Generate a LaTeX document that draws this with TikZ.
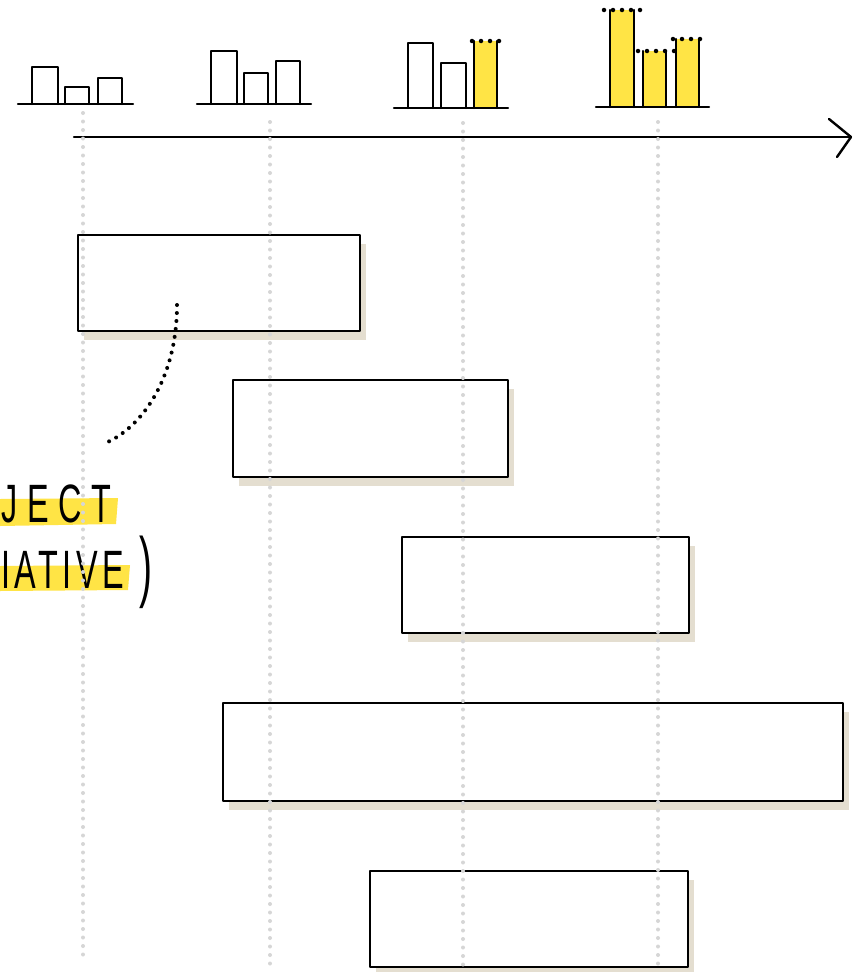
\documentclass[tikz,border=0pt]{standalone}
\usepackage{fontspec}
\setmainfont{Liberation Sans}
\usetikzlibrary{shadows}
\definecolor{hl}{HTML}{FFE445}
\definecolor{beige}{HTML}{E4DED0}
\definecolor{dotgray}{HTML}{D6D6D6}
\tikzset{
  ink/.style={draw=black, line width=2.4pt, line cap=round, line join=round},
  box/.style={ink, fill=white, inner sep=0pt,
    drop shadow={shadow xshift=6pt, shadow yshift=-9pt, fill=beige, opacity=1}},
  guide/.style={draw=dotgray, line width=4pt, line cap=round, dash pattern=on 0pt off 8.5pt},
  topdots/.style={draw=black, line width=4.5pt, line cap=round, dash pattern=on 0pt off 9pt},
  curvedots/.style={draw=black, line width=4pt, line cap=round, dash pattern=on 0pt off 8pt},
  hand/.style={inner sep=0pt, font=\fontsize{54}{54}\selectfont}
}
\begin{document}
\begin{tikzpicture}[x=1pt,y=-1pt]
\useasboundingbox[fill=white] (0,0) rectangle (853,972);

% highlights and text
\fill[hl] (0,499) -- (118,498) -- (116,524) -- (0,526) -- cycle;
\fill[hl] (0,566) -- (130,565) -- (128,590) -- (0,591) -- cycle;
\node[hand, anchor=base west] (t1) at (1,522) {\scalebox{0.6}[1]{\addfontfeature{LetterSpace=30}JECT}};
\node[hand, anchor=base west] (t2) at (1,588) {\scalebox{0.6}[1]{\addfontfeature{LetterSpace=14}IATIVE}};
\node[inner sep=0pt, anchor=base west, font=\fontsize{78}{78}\selectfont] (t3) at (139,592) {\scalebox{0.5}[1]{)}};

% mini chart 1
\draw[ink] (18,104) -- (133,104);
\draw[ink] (32,104) -- (32,67) -- (58,67) -- (58,104);
\draw[ink] (65,104) -- (65,87) -- (89,87) -- (89,104);
\draw[ink] (98,104) -- (98,78) -- (122,78) -- (122,104);
% mini chart 2
\draw[ink] (197,104) -- (311,104);
\draw[ink] (211,104) -- (211,51) -- (237,51) -- (237,104);
\draw[ink] (244,104) -- (244,73) -- (268,73) -- (268,104);
\draw[ink] (276,104) -- (276,61) -- (300,61) -- (300,104);
% mini chart 3
\fill[hl] (474,41) rectangle (497,108);
\draw[ink] (394,108) -- (508,108);
\draw[ink] (408,108) -- (408,43) -- (433,43) -- (433,108);
\draw[ink] (441,108) -- (441,63) -- (466,63) -- (466,108);
\draw[ink] (474,108) -- (474,41);
\draw[ink] (497,108) -- (497,41);
\draw[topdots] (472,41) -- (505,41);
% mini chart 4
\fill[hl] (610,10) rectangle (634,107);
\fill[hl] (643,51) rectangle (666,107);
\fill[hl] (676,39) rectangle (699,107);
\draw[ink] (596,107) -- (709,107);
\draw[ink] (610,107) -- (610,10);
\draw[ink] (634,107) -- (634,10);
\draw[ink] (643,107) -- (643,51);
\draw[ink] (666,107) -- (666,51);
\draw[ink] (676,107) -- (676,39);
\draw[ink] (699,107) -- (699,39);
\draw[topdots] (604,10) -- (641,10);
\draw[topdots] (638,51) -- (674,51);
\draw[topdots] (673,39) -- (707,39);

% time axis
\coordinate (ax0) at (74,137);
\coordinate (ax1) at (851,137);
\draw[ink] (ax0) -- (ax1);
\draw[ink] (829,119) -- (ax1) -- (837,157);

% boxes
\node[box, minimum width=282pt, minimum height=96pt] (b1) at (219,283) {};
\node[box, minimum width=275pt, minimum height=97pt] (b2) at (370.5,428.5) {};
\node[box, minimum width=287pt, minimum height=96pt] (b3) at (545.5,585) {};
\node[box, minimum width=620pt, minimum height=98pt] (b4) at (533,752) {};
\node[box, minimum width=318pt, minimum height=96pt] (b5) at (529,919) {};

% guide lines
\draw[guide] (83,113) -- (83,955);
\draw[guide] (270,122) -- (270,965);
\draw[guide] (463,123) -- (463,965);
\draw[guide] (658,122) -- (658,965);

% dotted pointer
\coordinate (c1) at (177,305);
\coordinate (c2) at (103,444);
\draw[curvedots] (c1) .. controls (177,380) and (140,430) .. (c2);
\end{tikzpicture}
\end{document}
